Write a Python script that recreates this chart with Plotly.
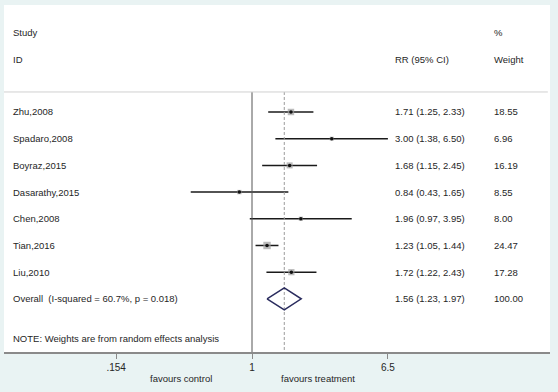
import math
import plotly.graph_objects as go

# ---- data ----
studies = ["Zhu,2008", "Spadaro,2008", "Boyraz,2015", "Dasarathy,2015",
           "Chen,2008", "Tian,2016", "Liu,2010"]
rr = [1.71, 3.00, 1.68, 0.84, 1.96, 1.23, 1.72]
ci_low = [1.25, 1.38, 1.15, 0.43, 0.97, 1.05, 1.22]
ci_high = [2.33, 6.50, 2.45, 1.65, 3.95, 1.44, 2.43]
weights = [18.55, 6.96, 16.19, 8.55, 8.00, 24.47, 17.28]
overall_label = "Overall  (I-squared = 60.7%, p = 0.018)"
overall_rr = 1.56
overall_low = 1.23
overall_high = 1.97
overall_weight = 100.00
tick_vals = [0.154, 1, 6.5]
tick_text = [".154", "1", "6.5"]
note = "NOTE: Weights are from random effects analysis"

TXT = "#262626"
FONT = "Liberation Sans, Arial, sans-serif"
FS = 9.5

rows = list(range(len(studies)))
ov_row = len(studies)
row_top = -0.75
row_bottom = 8.99

fig = go.Figure()

# CI lines
cx, cy = [], []
for r, lo, hi in zip(rows, ci_low, ci_high):
    cx += [lo, hi, None]
    cy += [r, r, None]
fig.add_trace(go.Scatter(x=cx, y=cy, mode="lines",
                         line=dict(color="#1a1a1a", width=1.5),
                         hoverinfo="skip", showlegend=False))

# reference line at 1
fig.add_trace(go.Scatter(x=[1, 1], y=[row_top, row_bottom], mode="lines",
                         line=dict(color="#555555", width=1),
                         hoverinfo="skip", showlegend=False))
# overall dashed line
fig.add_trace(go.Scatter(x=[overall_rr, overall_rr], y=[row_top, row_bottom],
                         mode="lines",
                         line=dict(color="#9a9a9a", width=1, dash="3px,2px"),
                         hoverinfo="skip", showlegend=False))

# weight squares
sizes = [1.5 * math.sqrt(w) for w in weights]
fig.add_trace(go.Scatter(x=rr, y=rows, mode="markers",
                         marker=dict(symbol="square", size=sizes,
                                     color="#a0a0a0", line=dict(width=0)),
                         hoverinfo="skip", showlegend=False))
# center dots
fig.add_trace(go.Scatter(x=rr, y=rows, mode="markers",
                         marker=dict(symbol="circle", size=3.5, color="#111111"),
                         hoverinfo="skip", showlegend=False))

# overall diamond
h = 0.41
fig.add_trace(go.Scatter(x=[overall_low, overall_rr, overall_high, overall_rr, overall_low],
                         y=[ov_row, ov_row - h, ov_row, ov_row + h, ov_row],
                         mode="lines", line=dict(color="#2a2c5e", width=1.5),
                         hoverinfo="skip", showlegend=False))

# text columns
def px2paper(px):
    return (px - 4) / 546.0

anns = []
def add_text(xpx, y, text, size=FS):
    anns.append(dict(x=px2paper(xpx), xref="paper", y=y, yref="y", text=text,
                     showarrow=False, xanchor="left", yanchor="middle",
                     font=dict(family=FONT, size=size, color=TXT)))

add_text(11, -2.96, "Study")
add_text(11, -1.98, "ID")
add_text(393, -1.98, "RR (95% CI)")
add_text(492, -2.96, "%")
add_text(492, -1.98, "Weight")

for r, s, v, lo, hi, w in zip(rows, studies, rr, ci_low, ci_high, weights):
    add_text(11, r, s)
    add_text(393, r, f"{v:.2f} ({lo:.2f}, {hi:.2f})")
    add_text(492, r, f"{w:.2f}")

add_text(11, ov_row, overall_label)
add_text(393, ov_row, f"{overall_rr:.2f} ({overall_low:.2f}, {overall_high:.2f})")
add_text(492, ov_row, f"{overall_weight:.2f}")
add_text(11, 8.5, note)

# favours labels (below axis)
anns.append(dict(x=(181 - 4) / 546.0, xref="paper", y=-0.075, yref="paper",
                 text="favours control", showarrow=False, xanchor="center",
                 yanchor="middle", font=dict(family=FONT, size=9.5, color=TXT)))
anns.append(dict(x=(318 - 4) / 546.0, xref="paper", y=-0.075, yref="paper",
                 text="favours treatment", showarrow=False, xanchor="center",
                 yanchor="middle", font=dict(family=FONT, size=9.5, color=TXT)))

shapes = [dict(type="line", xref="paper", yref="y", x0=0, x1=0.996,
               y0=row_top, y1=row_top, line=dict(color="#d0d0d0", width=1))]

fig.update_layout(
    width=558, height=392,
    margin=dict(l=4, r=8, t=5, b=40),
    paper_bgcolor="#e9f3f3",
    plot_bgcolor="#ffffff",
    annotations=anns,
    shapes=shapes,
    xaxis=dict(type="log", range=[-1.4835, 1.7826],
               showgrid=False, zeroline=False,
               showline=True, linecolor="#8a8a8a", linewidth=1.5,
               ticks="outside", ticklen=5, tickcolor="#8a8a8a", tickwidth=1,
               tickvals=tick_vals, ticktext=tick_text,
               tickfont=dict(family=FONT, size=10, color=TXT)),
    yaxis=dict(range=[row_bottom, -4.0075], showgrid=False, zeroline=False,
               showticklabels=False, showline=False, ticks=""),
)

fig.write_html("out.html",
               config={"displayModeBar": False},
               post_script="document.body.style.margin='0';"
                           "document.body.style.background='#e9f3f3';")
